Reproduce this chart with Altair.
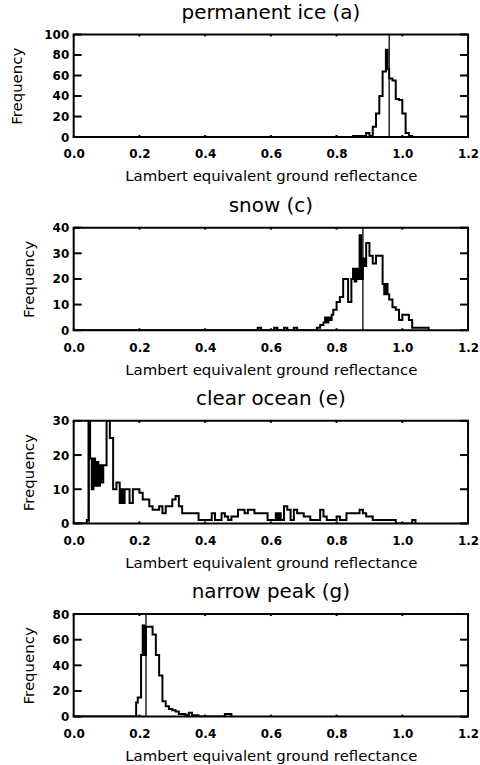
import altair as alt
import pandas as pd

# ---------------- data ----------------
panel_titles = ["permanent ice (a)", "snow (c)", "clear ocean (e)", "narrow peak (g)"]
x_title = "Lambert equivalent ground reflectance"
y_title = "Frequency"
x_tick_values = [0.0, 0.2, 0.4, 0.6, 0.8, 1.0, 1.2]

ice_edges = [0.0, 0.85, 0.86, 0.87, 0.88, 0.89, 0.90, 0.91, 0.92, 0.93, 0.94, 0.95, 0.955,
             0.96, 0.97, 0.98, 0.99, 1.00, 1.01, 1.02, 1.03]
ice_counts = [0, 1, 1, 1, 1, 4, 1, 10, 23, 40, 64, 85, 66,
              57, 55, 37, 36, 23, 4, 1, 0]
ice_marker = 0.96
ice_yticks = [0, 20, 40, 60, 80, 100]

snow_edges = [0.0, 0.56, 0.57, 0.61, 0.62, 0.64, 0.65, 0.67, 0.68, 0.74, 0.75, 0.76, 0.765,
              0.77, 0.775, 0.78, 0.785, 0.79, 0.80, 0.81, 0.82, 0.83, 0.835, 0.845, 0.85,
              0.855, 0.86, 0.865, 0.87, 0.875, 0.88, 0.885, 0.89, 0.90, 0.91, 0.92, 0.93,
              0.94, 0.945, 0.95, 0.955, 0.96, 0.97, 0.98, 0.99, 1.00, 1.01, 1.02, 1.03,
              1.04, 1.05, 1.06, 1.07, 1.08]
snow_counts = [0, 1, 0, 1, 0, 1, 0, 1, 0, 1, 2, 3, 5,
               3, 5, 4, 6, 8, 11, 13, 20, 20, 11, 20, 24,
               19, 24, 20, 37, 20, 28, 25, 34, 29, 26, 29, 29,
               18, 14, 18, 14, 12, 9, 8, 4, 6, 6, 4, 1,
               1, 1, 1, 1, 0]
snow_marker = 0.88
snow_yticks = [0, 10, 20, 30, 40]

ocean_edges = [0.0, 0.04, 0.045, 0.05, 0.055, 0.06, 0.065, 0.07, 0.075, 0.08, 0.085, 0.09,
               0.10, 0.11, 0.12, 0.13, 0.14, 0.145, 0.15, 0.155, 0.16, 0.17, 0.18, 0.19,
               0.20, 0.21, 0.22, 0.23, 0.24, 0.25, 0.26, 0.27, 0.28, 0.29, 0.30, 0.31,
               0.32, 0.33, 0.34, 0.35, 0.36, 0.37, 0.38, 0.39, 0.40, 0.41, 0.42, 0.43,
               0.44, 0.45, 0.46, 0.47, 0.48, 0.49, 0.50, 0.51, 0.52, 0.53, 0.54, 0.55,
               0.56, 0.57, 0.58, 0.59, 0.60, 0.61, 0.615, 0.62, 0.625, 0.63, 0.64, 0.65,
               0.66, 0.67, 0.68, 0.69, 0.70, 0.71, 0.72, 0.73, 0.74, 0.75, 0.76, 0.77,
               0.78, 0.79, 0.80, 0.81, 0.82, 0.83, 0.84, 0.85, 0.86, 0.87, 0.88, 0.89,
               0.90, 0.91, 0.92, 0.93, 0.94, 0.95, 0.98, 1.03, 1.04]
ocean_counts = [0, 1, 45, 19, 10, 19, 11, 18, 11, 17, 12, 17,
                30, 25, 10, 12, 6, 10, 6, 10, 10, 6, 10, 10,
                9, 7, 7, 5, 4, 4, 5, 3, 5, 5, 7, 8,
                5, 3, 3, 3, 3, 3, 1, 1, 1, 1, 3, 1,
                1, 3, 2, 1, 2, 2, 4, 4, 3, 4, 4, 3,
                3, 3, 3, 1, 1, 1, 3, 1, 3, 1, 5, 4,
                1, 4, 3, 3, 2, 2, 1, 1, 1, 4, 2, 1,
                1, 1, 2, 1, 1, 3, 3, 3, 3, 4, 3, 2,
                2, 1, 1, 1, 1, 1, 0, 1, 0]
ocean_marker = 0.047
ocean_yticks = [0, 10, 20, 30]

narrow_edges = [0.0, 0.19, 0.195, 0.205, 0.21, 0.215, 0.22, 0.23, 0.24, 0.25, 0.26, 0.27,
                0.28, 0.29, 0.30, 0.31, 0.32, 0.33, 0.34, 0.35, 0.36, 0.37, 0.38, 0.46, 0.48]
narrow_counts = [0, 11, 15, 48, 71, 48, 70, 70, 64, 48, 32, 12,
                 8, 6, 5, 4, 2, 2, 1, 3, 1, 1, 0, 2, 0]
narrow_marker = 0.22
narrow_yticks = [0, 20, 40, 60, 80]

# ---------------- layout / style ----------------
W, H = 396, 103
XTICK_LEN = 2
YTICK_LEN = 8
Y_TITLE_X = [-52, -40, -40, -40]
FONT = "DejaVu Sans"


def make_panel(title, edges, counts, marker, yticks, title_x):
    xscale = alt.Scale(domain=[0, 1.2], nice=False, zero=False)
    yscale = alt.Scale(domain=[0, yticks[-1]], nice=False, zero=False)
    xaxis = alt.Axis(values=x_tick_values, format=".1f", title=x_title, ticks=False,
                     domain=False, grid=False, labelPadding=12, labelFlush=False,
                     titleY=44, titleBaseline="alphabetic")
    yaxis = alt.Axis(values=yticks, title=y_title, ticks=False, domain=False, grid=False,
                     labelPadding=5, labelFlush=False, titleX=title_x,
                     titleBaseline="alphabetic")

    hist_df = pd.DataFrame({"refl": edges, "freq": counts})
    hist = alt.Chart(hist_df).mark_line(
        interpolate="step-after", color="black", strokeWidth=2, clip=True
    ).encode(
        x=alt.X("refl:Q", scale=xscale, axis=xaxis),
        y=alt.Y("freq:Q", scale=yscale, axis=yaxis),
    )

    mk = alt.Chart(pd.DataFrame({"refl": [marker]})).mark_rule(
        color="black", strokeWidth=1.3
    ).encode(x=alt.X("refl:Q", scale=xscale, axis=xaxis), y=alt.value(0), y2=alt.value(H))

    ytick_df = pd.DataFrame({"freq": yticks})
    ytl = alt.Chart(ytick_df).mark_rule(color="black", strokeWidth=2).encode(
        y=alt.Y("freq:Q", scale=yscale, axis=yaxis), x=alt.value(0), x2=alt.value(YTICK_LEN))
    ytr = alt.Chart(ytick_df).mark_rule(color="black", strokeWidth=2).encode(
        y=alt.Y("freq:Q", scale=yscale, axis=yaxis), x=alt.value(W - YTICK_LEN), x2=alt.value(W))

    xtick_df = pd.DataFrame({"refl": x_tick_values})
    xtb = alt.Chart(xtick_df).mark_rule(color="black", strokeWidth=2).encode(
        x=alt.X("refl:Q", scale=xscale, axis=xaxis), y=alt.value(H - XTICK_LEN), y2=alt.value(H))
    xtt = alt.Chart(xtick_df).mark_rule(color="black", strokeWidth=2).encode(
        x=alt.X("refl:Q", scale=xscale, axis=xaxis), y=alt.value(0), y2=alt.value(XTICK_LEN))

    return alt.layer(hist, mk, ytl, ytr, xtb, xtt).properties(
        width=W, height=H, title=title)


panels = [
    make_panel(panel_titles[0], ice_edges, ice_counts, ice_marker, ice_yticks, Y_TITLE_X[0]),
    make_panel(panel_titles[1], snow_edges, snow_counts, snow_marker, snow_yticks, Y_TITLE_X[1]),
    make_panel(panel_titles[2], ocean_edges, ocean_counts, ocean_marker, ocean_yticks, Y_TITLE_X[2]),
    make_panel(panel_titles[3], narrow_edges, narrow_counts, narrow_marker, narrow_yticks, Y_TITLE_X[3]),
]

chart = alt.vconcat(*panels, spacing=91, bounds="flush").properties(
    padding={"left": 9, "top": 0, "right": 0, "bottom": 5},
    background="white",
).configure_view(
    stroke="black", strokeWidth=2
).configure_axis(
    labelFont=FONT, labelFontSize=12, labelFontWeight="bold", labelColor="black",
    titleFont=FONT, titleFontSize=15, titleFontWeight="normal", titleColor="black",
).configure_title(
    font=FONT, fontSize=20, fontWeight="normal", color="black", anchor="middle",
    baseline="alphabetic", offset=6, frame="group",
)

chart.save("out.html", embed_options={"renderer": "svg", "actions": False})
